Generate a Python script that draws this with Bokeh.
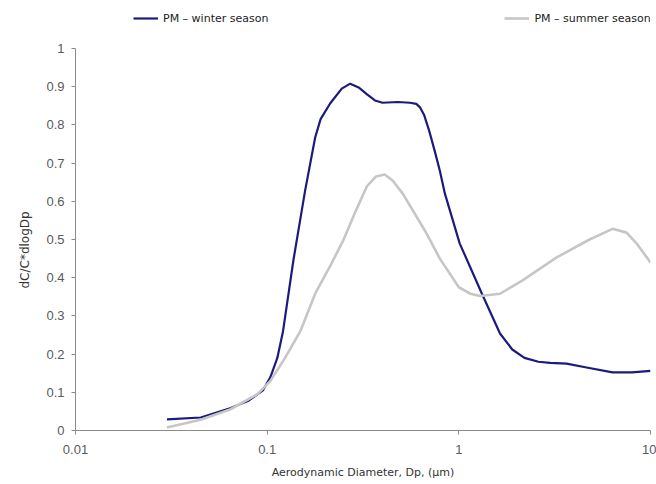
from bokeh.plotting import figure
from bokeh.models import FixedTicker, CustomJSTickFormatter, Legend, LegendItem, Range1d, Title
from bokeh.embed import file_html
from bokeh.resources import INLINE

# ---- data ----
winter_dp = [0.03, 0.045, 0.064, 0.08, 0.095, 0.104, 0.113, 0.121, 0.137, 0.158,
             0.178, 0.19, 0.213, 0.245, 0.271, 0.30, 0.332, 0.365, 0.40, 0.48,
             0.556, 0.60, 0.627, 0.66, 0.70, 0.75, 0.796, 0.846, 1.01, 1.32,
             1.64, 1.9, 2.2, 2.6, 3.0, 3.65, 4.64, 6.34, 8.0, 10.0]
winter_val = [0.029, 0.034, 0.058, 0.078, 0.105, 0.14, 0.19, 0.26, 0.445, 0.63,
              0.767, 0.815, 0.856, 0.895, 0.908, 0.898, 0.88, 0.864, 0.858, 0.86,
              0.858, 0.855, 0.846, 0.825, 0.785, 0.73, 0.68, 0.62, 0.49, 0.358,
              0.254, 0.212, 0.19, 0.18, 0.177, 0.175, 0.165, 0.152, 0.152, 0.156]

summer_dp = [0.03, 0.045, 0.064, 0.089, 0.104, 0.124, 0.149, 0.178, 0.213, 0.249,
             0.29, 0.332, 0.37, 0.41, 0.45, 0.51, 0.68, 0.796, 1.0, 1.15, 1.29,
             1.64, 2.15, 3.24, 4.81, 6.34, 7.5, 8.45, 10.0]
summer_val = [0.008, 0.028, 0.055, 0.095, 0.13, 0.19, 0.26, 0.358, 0.43, 0.497,
              0.575, 0.64, 0.665, 0.67, 0.655, 0.62, 0.515, 0.45, 0.375, 0.358, 0.352,
              0.358, 0.393, 0.453, 0.50, 0.528, 0.518, 0.49, 0.44]

x_ticks = [0.01, 0.1, 1, 10]
y_ticks = [0, 0.1, 0.2, 0.3, 0.4, 0.5, 0.6, 0.7, 0.8, 0.9, 1.0]

series_labels = ["PM \u2013 winter season", "PM \u2013 summer season"]
x_title = "Aerodynamic Diameter, Dp, (\u00b5m)"
y_title = "dC/C*dlogDp"

# Frame spans page y 8..430; the value axis 0..1 covers the lower 382 px,
# the space above holds the legend (as in the reference).
Y_TOP = 422.0 / 382.0

p = figure(width=656, height=484, x_axis_type="log",
           x_range=Range1d(0.01, 10), y_range=Range1d(0, Y_TOP),
           output_backend="svg", toolbar_location=None,
           min_border_left=75, min_border_right=6, min_border_top=8, min_border_bottom=54)
p.outline_line_color = None
p.xgrid.grid_line_color = None
p.ygrid.grid_line_color = None
p.background_fill_color = "white"
p.border_fill_color = "white"

r_w = p.line(winter_dp, winter_val, line_color="#1c1a7c", line_width=2.2)
r_s = p.line(summer_dp, summer_val, line_color="#c6c6c6", line_width=2.6)

fmt = CustomJSTickFormatter(code="return String(Math.round(tick*100)/100);")

for ax in (p.xaxis[0], p.yaxis[0]):
    ax.axis_line_color = "#8a8a8a"
    ax.major_tick_line_color = "#8a8a8a"
    ax.major_tick_out = 4
    ax.major_tick_in = 0
    ax.minor_tick_line_color = None
    ax.major_label_text_font = "Liberation Sans"
    ax.major_label_text_font_size = "13px"
    ax.major_label_text_color = "#5a5a5a"
    ax.axis_label_text_font = "DejaVu Sans"
    ax.axis_label_text_font_size = "11px"
    ax.axis_label_text_font_style = "normal"
    ax.axis_label_text_color = "#333333"
    ax.formatter = fmt

p.xaxis.ticker = FixedTicker(ticks=x_ticks)
p.yaxis.ticker = FixedTicker(ticks=y_ticks)
p.yaxis.bounds = (0, 1)
p.xaxis.axis_label = x_title
p.xaxis.major_label_standoff = 10
p.xaxis.axis_label_standoff = 9
p.yaxis.major_label_standoff = 7

# value-axis title, centred on the 0..1 part of the axis
ytitle = Title(text=y_title, align="left", offset=142, standoff=24,
               text_font="DejaVu Sans", text_font_size="12px",
               text_font_style="normal", text_color="#333333")
p.add_layout(ytitle, "left")

legend = Legend(items=[LegendItem(label=series_labels[0], renderers=[r_w]),
                       LegendItem(label=series_labels[1], renderers=[r_s])],
                orientation="horizontal", location=(58, 402),
                glyph_width=25, glyph_height=20, label_standoff=5, spacing=236,
                padding=0, margin=0, border_line_color=None, background_fill_alpha=0,
                label_text_font="DejaVu Sans", label_text_font_size="11px",
                label_text_color="#222222")
p.add_layout(legend)

open("out.html", "w").write(file_html(p, INLINE))
